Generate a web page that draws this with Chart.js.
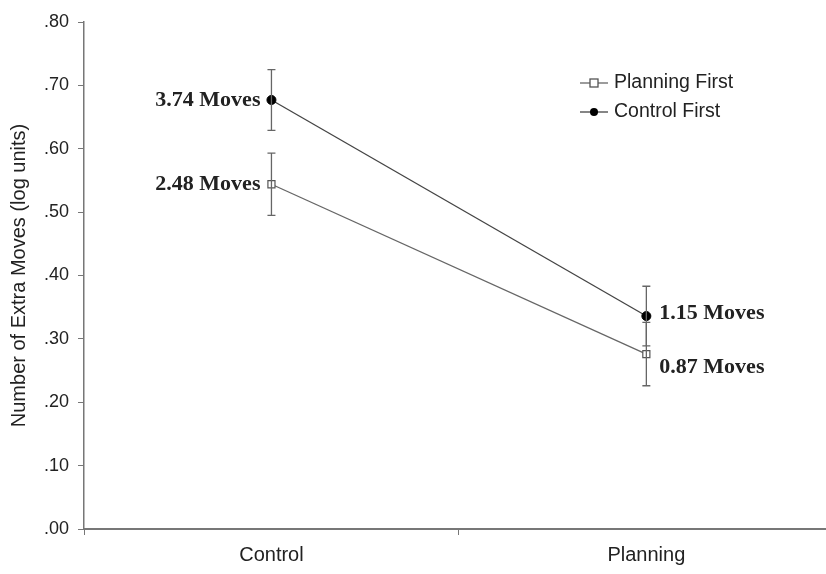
<!DOCTYPE html>
<html>
<head>
<meta charset="utf-8">
<script src="https://cdn.jsdelivr.net/npm/chart.js@4.4.1/dist/chart.umd.min.js"></script>
<style>
  html, body { margin: 0; padding: 0; background: #fff; overflow: hidden; }
  canvas { display: block; }
</style>
</head>
<body>
<canvas id="chart" width="840" height="574"></canvas>
<script>
// --- data ---
const categories = ["Control", "Planning"];
const planningFirst = [0.544, 0.276];
const controlFirst = [0.677, 0.336];
const planningFirstErr = [0.049, 0.050];
const controlFirstErr = [0.048, 0.047];
const planningFirstLabels = ["2.48 Moves", "0.87 Moves"];
const controlFirstLabels = ["3.74 Moves", "1.15 Moves"];
const seriesNames = ["Planning First", "Control First"];

const textColor = "#222";
const axisColor = "#777";
const sans = "'Liberation Sans', Arial, sans-serif";

// error bars + "Moves" labels
const extrasPlugin = {
  id: "extras",
  afterDatasetsDraw(chart) {
    const ctx = chart.ctx;
    const y = chart.scales.y;
    const errs = [planningFirstErr, controlFirstErr];
    const labels = [planningFirstLabels, controlFirstLabels];
    // small vertical nudges so the planning-side labels don't collide
    const nudge = [[0, 13], [0, -3]];

    ctx.save();
    chart.data.datasets.forEach((ds, i) => {
      const meta = chart.getDatasetMeta(i);
      meta.data.forEach((pt, j) => {
        const v = ds.data[j];
        const top = y.getPixelForValue(v + errs[i][j]);
        const bot = y.getPixelForValue(v - errs[i][j]);
        ctx.strokeStyle = "#666";
        ctx.lineWidth = 1.3;
        ctx.beginPath();
        ctx.moveTo(pt.x, top); ctx.lineTo(pt.x, bot);
        ctx.moveTo(pt.x - 4, top); ctx.lineTo(pt.x + 4, top);
        ctx.moveTo(pt.x - 4, bot); ctx.lineTo(pt.x + 4, bot);
        ctx.stroke();

        ctx.fillStyle = textColor;
        ctx.font = "bold 22px 'Liberation Serif', 'Times New Roman', serif";
        ctx.textBaseline = "middle";
        if (j === 0) {
          ctx.textAlign = "right";
          ctx.fillText(labels[i][j], pt.x - 11, pt.y + nudge[i][j]);
        } else {
          ctx.textAlign = "left";
          ctx.fillText(labels[i][j], pt.x + 13, pt.y + nudge[i][j]);
        }
      });
    });
    ctx.restore();
  },
  afterDraw(chart) {
    // legend inside plot, top right
    const ctx = chart.ctx;
    const x0 = 580, rows = [83, 112];
    ctx.save();
    chart.data.datasets.forEach((ds, i) => {
      const yy = rows[i];
      ctx.strokeStyle = ds.borderColor;
      ctx.lineWidth = 1.3;
      ctx.beginPath();
      ctx.moveTo(x0, yy); ctx.lineTo(x0 + 28, yy);
      ctx.stroke();
      const cx = x0 + 14;
      if (ds.pointStyle === "rect") {
        ctx.fillStyle = "#fff";
        ctx.strokeStyle = ds.pointBorderColor;
        ctx.fillRect(cx - 4, yy - 4, 8, 8);
        ctx.strokeRect(cx - 4, yy - 4, 8, 8);
      } else {
        ctx.fillStyle = ds.pointBackgroundColor;
        ctx.beginPath();
        ctx.arc(cx, yy, 4, 0, Math.PI * 2);
        ctx.fill();
      }
      ctx.fillStyle = textColor;
      ctx.font = "19.5px " + sans;
      ctx.textAlign = "left";
      ctx.textBaseline = "middle";
      ctx.fillText(ds.label, x0 + 34, yy);
    });
    ctx.restore();
  }
};

new Chart(document.getElementById("chart"), {
  type: "line",
  data: {
    labels: categories,
    datasets: [
      {
        label: seriesNames[0],
        data: planningFirst,
        borderColor: "#666",
        borderWidth: 1.3,
        pointStyle: "rect",
        pointRadius: 5,
        pointBackgroundColor: "#fff",
        pointBorderColor: "#555",
        pointBorderWidth: 1.2
      },
      {
        label: seriesNames[1],
        data: controlFirst,
        borderColor: "#444",
        borderWidth: 1.3,
        pointStyle: "circle",
        pointRadius: 4.5,
        pointBackgroundColor: "#000",
        pointBorderColor: "#000",
        pointBorderWidth: 1
      }
    ]
  },
  options: {
    responsive: false,
    animation: false,
    layout: { padding: { top: 22, right: 0, bottom: 0, left: 7 } },
    plugins: {
      legend: { display: false },
      tooltip: { enabled: false }
    },
    scales: {
      x: {
        offset: true,
        afterFit: (s) => { s.height = 45; },
        grid: {
          offset: true,
          drawOnChartArea: false,
          tickLength: 6,
          color: axisColor
        },
        border: { color: axisColor, width: 2 },
        ticks: {
          color: textColor,
          padding: 8,
          font: { family: sans, size: 20 }
        }
      },
      y: {
        min: 0,
        max: 0.8,
        afterFit: (s) => { s.width = 77; },
        grid: {
          drawOnChartArea: false,
          tickLength: 6,
          color: axisColor
        },
        border: { color: axisColor, width: 1.5 },
        ticks: {
          stepSize: 0.1,
          color: textColor,
          padding: 9,
          font: { family: sans, size: 18 },
          callback: (v) => v.toFixed(2).replace(/^0/, "")
        },
        title: {
          display: true,
          text: "Number of Extra Moves (log units)",
          color: textColor,
          padding: { top: 0, bottom: 0 },
          font: { family: sans, size: 20 }
        }
      }
    }
  },
  plugins: [extrasPlugin]
});
</script>
</body>
</html>
